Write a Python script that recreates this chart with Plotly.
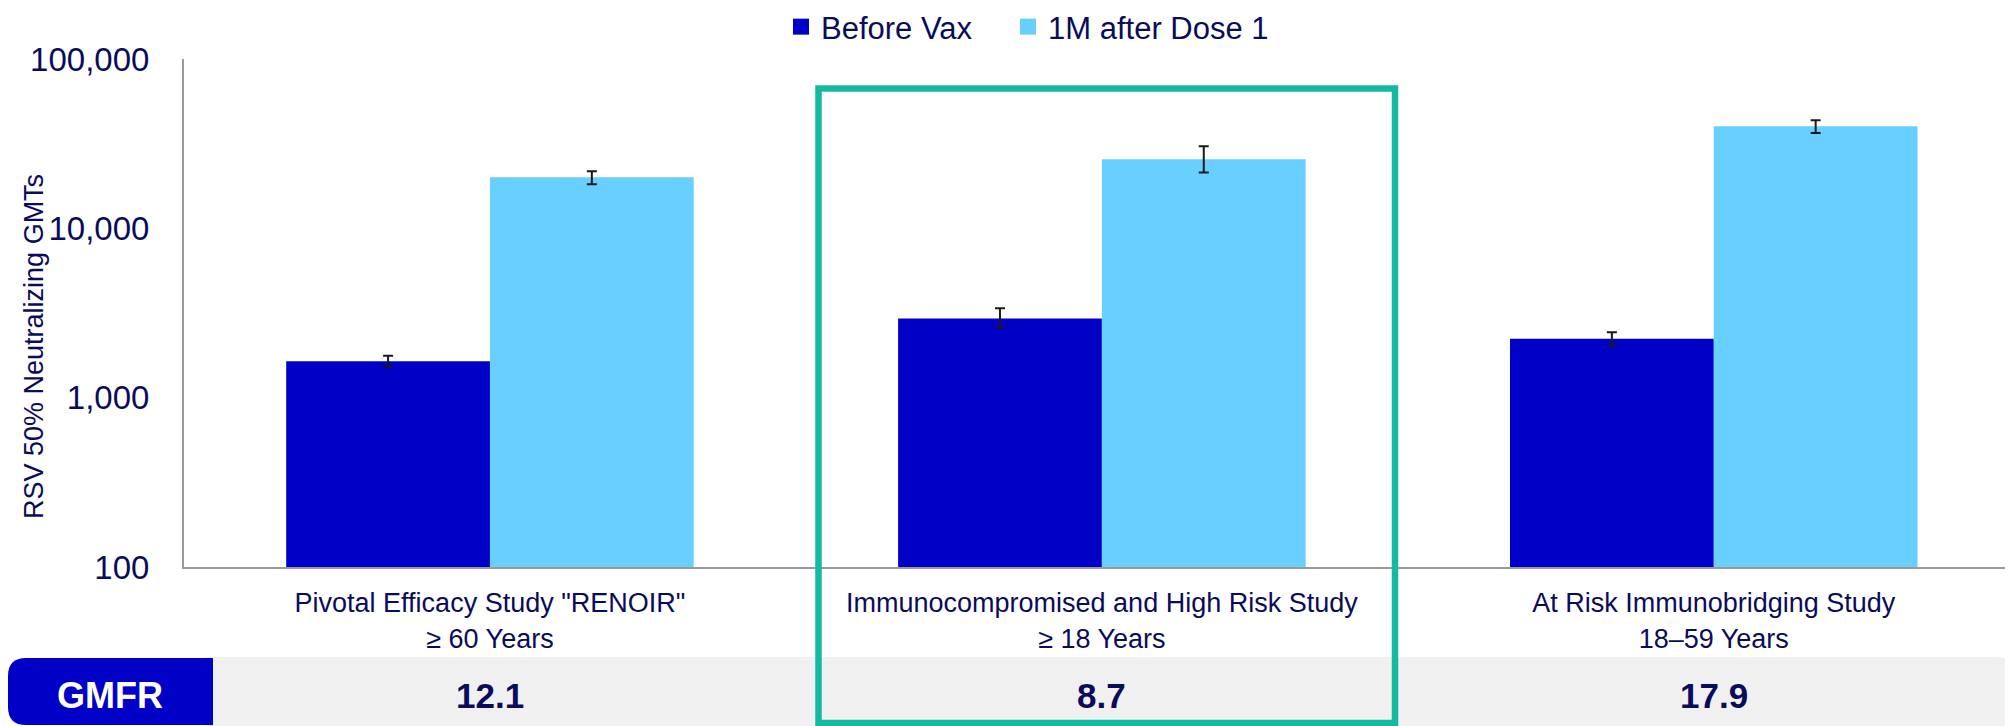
import plotly.graph_objects as go

# ---------------- data ----------------
categories = ['Pivotal Efficacy Study "RENOIR"<br>≥ 60 Years',
              'Immunocompromised and High Risk Study<br>≥ 18 Years',
              'At Risk Immunobridging Study<br>18–59 Years']
series_names = ["Before Vax", "1M after Dose 1"]
before_vax = [1640, 2930, 2230]
before_hi = [1770, 3370, 2430]
before_lo = [1525, 2590, 2030]
after_dose1 = [20000, 25600, 40100]
after_hi = [21700, 30500, 43500]
after_lo = [18200, 21400, 36500]
gmfr_label = "GMFR"
gmfr_values = ["12.1", "8.7", "17.9"]
y_tickvals = [100, 1000, 10000, 100000]
y_ticktext = ["100", "1,000", "10,000", "100,000"]
y_title = "RSV 50% Neutralizing GMTs"

# ---------------- style / geometry ----------------
OFF = 8                      # browser body margin
W, H = 2013 - OFF, 726 - OFF  # figure size so page fills the window
# plot area in window (reference) pixels
PL, PR, PT, PB = 184, 2013, 59, 567
NAVY = "#0b0b5c"
DARK = "#0000c6"
LIGHT = "#69cfff"
TEAL = "#14b9a1"
FONT = "Liberation Sans, Arial, sans-serif"


def px(p):
    return (p - PL) / (PR - PL)


def py(p):
    return (PB - p) / (PB - PT)


def err(vals, hi, lo):
    return ([h - v for v, h in zip(vals, hi)], [v - l for v, l in zip(vals, lo)])


fig = go.Figure()
colors = [DARK, LIGHT]
for name, vals, hi, lo, col in [
    (series_names[0], before_vax, before_hi, before_lo, colors[0]),
    (series_names[1], after_dose1, after_hi, after_lo, colors[1]),
]:
    up, dn = err(vals, hi, lo)
    fig.add_trace(go.Bar(
        name=name, x=categories, y=vals, showlegend=False, legendgroup=name,
        marker=dict(color=col, line=dict(width=0)),
        error_y=dict(type="data", array=up, arrayminus=dn, color="#1a1a1a",
                     thickness=2, width=5),
    ))
# legend entries with larger square swatches
legend_widths = [182, None]
for name, col, lw in zip(series_names, colors, legend_widths):
    kw = dict(legendwidth=lw) if lw else {}
    fig.add_trace(go.Scatter(
        name=name, x=[None], y=[None], mode="markers", legendgroup=name,
        marker=dict(symbol="square", size=16, color=col), showlegend=True, **kw,
    ))


def rounded_path(x0, y0, x1, y1, r_tl=0, r_tr=0, r_br=0, r_bl=0):
    def P(x, y):
        return f"{px(x):.6f},{py(y):.6f}"
    s = f"M{P(x0 + r_tl, y0)} L{P(x1 - r_tr, y0)} "
    s += f"Q{P(x1, y0)} {P(x1, y0 + r_tr)} " if r_tr else ""
    s += f"L{P(x1, y1 - r_br)} "
    s += f"Q{P(x1, y1)} {P(x1 - r_br, y1)} " if r_br else ""
    s += f"L{P(x0 + r_bl, y1)} "
    s += f"Q{P(x0, y1)} {P(x0, y1 - r_bl)} " if r_bl else ""
    s += f"L{P(x0, y0 + r_tl)} "
    s += f"Q{P(x0, y0)} {P(x0 + r_tl, y0)} " if r_tl else ""
    return s + "Z"


shapes = [
    dict(type="path", xref="paper", yref="paper",
         path=rounded_path(205, 657, 2012, 730, r_tr=14),
         fillcolor="#f0f0f0", line=dict(width=0), layer="below"),
    dict(type="path", xref="paper", yref="paper",
         path=rounded_path(8, 658, 213, 725, r_tl=18, r_bl=18),
         fillcolor=DARK, line=dict(width=0), layer="above"),
    dict(type="rect", xref="paper", yref="paper",
         x0=px(818.5), x1=px(1395), y0=py(88.5), y1=py(723),
         line=dict(color=TEAL, width=6.5), fillcolor="rgba(0,0,0,0)", layer="above"),
]

annotations = [
    dict(text=y_title, textangle=-90, xref="paper", yref="paper",
         x=px(34), y=py(347), showarrow=False,
         font=dict(size=27, color=NAVY, family=FONT), xanchor="center", yanchor="middle"),
    dict(text=f"<b>{gmfr_label}</b>", xref="paper", yref="paper",
         x=px(110), y=py(695), showarrow=False,
         font=dict(size=36, color="white", family=FONT), xanchor="center", yanchor="middle"),
]
for c, v in zip(categories, gmfr_values):
    annotations.append(dict(text=f"<b>{v}</b>", xref="x", yref="paper", x=c, y=py(695),
                            showarrow=False, font=dict(size=35, color=NAVY, family=FONT),
                            xanchor="center", yanchor="middle"))

fig.update_layout(
    width=W, height=H,
    margin=dict(l=PL - OFF, r=0, t=PT - OFF, b=H - (PB - OFF), pad=0, autoexpand=False),
    paper_bgcolor="white", plot_bgcolor="white",
    barmode="group", bargap=0.334, bargroupgap=0,
    font=dict(family=FONT, color=NAVY),
    showlegend=True,
    legend=dict(orientation="h", xref="container", yref="container",
                x=(781 - OFF) / W, xanchor="left", y=1 - (27 - OFF) / H, yanchor="middle",
                font=dict(size=31, color=NAVY, family=FONT), itemsizing="trace",
                bgcolor="rgba(0,0,0,0)", traceorder="normal"),
    xaxis=dict(showline=True, linecolor="#9a9a9a", linewidth=2, ticks="",
               showgrid=False, zeroline=False, range=[-0.5, 2.489],
               tickfont=dict(size=27, color=NAVY, family=FONT), ticklabelstandoff=11),
    yaxis=dict(type="log", range=[2, 5], showline=True, linecolor="#9a9a9a", linewidth=2,
               ticks="", showgrid=False, zeroline=False,
               tickvals=y_tickvals, ticktext=y_ticktext,
               tickfont=dict(size=33, color=NAVY, family=FONT), ticklabelstandoff=26),
    shapes=shapes, annotations=annotations,
)

fig.write_html("out.html")
